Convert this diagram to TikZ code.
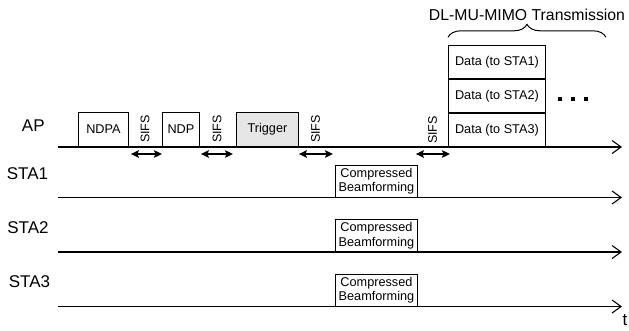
\documentclass[tikz,border=0pt]{standalone}
\usepackage{fontspec}
\setmainfont{Liberation Sans}
\usetikzlibrary{arrows.meta,positioning,decorations.pathreplacing}
\definecolor{trgray}{RGB}{230,230,230}

\begin{document}
\begin{tikzpicture}[x=1pt, y=-1pt,
  timeline/.style={line width=1.2pt, -{Straight Barb[length=9pt,width=13pt,line width=1.1pt]}},
  frame/.style={draw, line width=0.9pt, inner sep=0pt, align=center, font=\fontsize{12.7}{14.5}\selectfont},
  sta/.style={font=\fontsize{17}{20}\selectfont},
  sifs/.style={rotate=90, inner sep=0pt, font=\fontsize{12.5}{14}\selectfont},
  gap/.style={line width=1.5pt, {Stealth[length=8pt,width=7.5pt,inset=1.5pt]}-{Stealth[length=8pt,width=7.5pt,inset=1.5pt]}}]
\useasboundingbox (0,0) rectangle (629,330);
% Time axes
\coordinate (apS) at (58,147);    \coordinate (apE) at (622,147);
\coordinate (sta1S) at (58,197.5); \coordinate (sta1E) at (622,197.5);
\coordinate (sta2S) at (58,252);  \coordinate (sta2E) at (622,252);
\coordinate (sta3S) at (58,306.5); \coordinate (sta3E) at (622,306.5);
\draw[timeline] (apS) -- (apE);
\draw[timeline] (sta1S) -- (sta1E);
\draw[timeline] (sta2S) -- (sta2E);
\draw[timeline] (sta3S) -- (sta3E);
\node[sta] (tlabel) at (625,320) {t};
% Station labels
\node[sta] (ap) at (33.3,125.5) {AP};
\node[sta] (sta1) at (27.5,173.3) {STA1};
\node[sta] (sta2) at (28,228) {STA2};
\node[sta] (sta3) at (29.5,282) {STA3};
% AP frames
\node[frame, anchor=south west, minimum width=50, minimum height=34] (ndpa) at (apS -| 78,0) {NDPA};
\node[frame, anchor=south west, minimum width=37, minimum height=34] (ndp) at (apS -| 162,0) {NDP};
\node[frame, anchor=south west, minimum width=62, minimum height=34, fill=trgray] (trigger) at (apS -| 236,0) {Trigger};
\node[frame, anchor=south west, minimum width=97, minimum height=33] (data3) at (apS -| 448,0) {Data (to STA3)};
\node[frame, above=0pt of data3, minimum width=97, minimum height=33] (data2) {Data (to STA2)};
\node[frame, above=0pt of data2, minimum width=97, minimum height=33] (data1) {Data (to STA1)};
\foreach \x in {560,573,586}
  \fill (\x-1.75,97.25) rectangle ++(3.5,3.5);
% Feedback frames
\node[frame, anchor=south west, minimum width=82, minimum height=32] (cb1) at (sta1S -| 335,0) {Compressed\\Beamforming};
\node[frame, anchor=south west, minimum width=82, minimum height=32] (cb2) at (sta2S -| 335,0) {Compressed\\Beamforming};
\node[frame, anchor=south west, minimum width=82, minimum height=32] (cb3) at (sta3S -| 335,0) {Compressed\\Beamforming};
% SIFS gaps
\node[sifs] (sifs1) at (145,129) {SIFS};
\node[sifs] (sifs2) at (217,129) {SIFS};
\node[sifs] (sifs3) at (315.5,129) {SIFS};
\node[sifs] (sifs4) at (432.5,130) {SIFS};
\draw[gap] ([xshift=2pt,yshift=-7pt]ndpa.south east) -- ([yshift=-7pt]ndp.south west);
\draw[gap] ([xshift=1pt,yshift=-7pt]ndp.south east) -- ([xshift=-3pt,yshift=-7pt]trigger.south west);
\draw[gap] ([yshift=-7pt]trigger.south east) -- ([xshift=-2pt,yshift=-7pt]trigger.south east -| cb1.west);
\draw[gap] ([xshift=-2pt,yshift=-7pt]data3.south west -| cb1.east) -- ([xshift=2pt,yshift=-7pt]data3.south west);
% Brace
\coordinate (braceL) at ([yshift=8pt]data1.north west);
\coordinate (braceR) at (braceL -| 606,0);
\draw[decorate, decoration={brace, amplitude=13pt}, line width=1pt] (braceL) -- (braceR);
\node[font=\fontsize{15.8}{18}\selectfont] (mimo) at (527,15) {DL-MU-MIMO Transmission};
\end{tikzpicture}
\end{document}
